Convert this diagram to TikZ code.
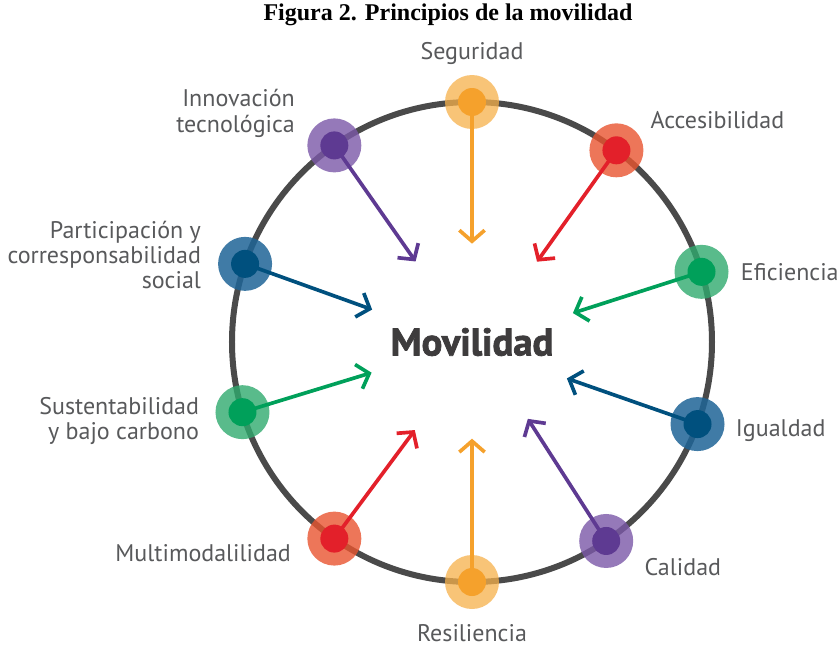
\documentclass[tikz,border=0pt]{standalone}
\usepackage{fontspec}
\setmainfont{Liberation Serif}
\newfontfamily\lblfont{PT Sans}
\newfontfamily\movfont{PT Sans Bold}[FakeBold=2]
\usetikzlibrary{arrows.meta,positioning}

\definecolor{ringgray}{HTML}{4A4A4A}
\definecolor{txtgray}{HTML}{58595B}
\definecolor{movgray}{HTML}{3E3C3D}
\definecolor{cOrange}{HTML}{F5A12C}
\definecolor{hOrange}{HTML}{F6B04A}
\definecolor{cRed}{HTML}{E3202A}
\definecolor{hRed}{HTML}{E8542F}
\definecolor{cGreen}{HTML}{00A05A}
\definecolor{hGreen}{HTML}{2FAA6E}
\definecolor{cBlue}{HTML}{00507E}
\definecolor{hBlue}{HTML}{1F6496}
\definecolor{cPurple}{HTML}{5E3A92}
\definecolor{hPurple}{HTML}{7B58A8}

\begin{document}
\begin{tikzpicture}[
    halo/.style={circle, minimum size=1.62cm, inner sep=0pt, fill opacity=0.8},
    dot/.style={circle, minimum size=0.84cm, inner sep=0pt},
    arrow/.style={-{Straight Barb[length=0.33cm, width=0.76cm]}, line width=0.11cm},
    lbl/.style={font=\lblfont\fontsize{20.5}{21.5}\selectfont, text=txtgray,
                inner sep=0pt, align=center}
]
    \useasboundingbox (-14.16,-9.27) rectangle (10.98,10.26);

    \node[font=\bfseries\fontsize{20.5}{24}\selectfont] (title) at (-0.72,9.82)
        {Figura 2. Principios de la movilidad};

    % anillo
    \draw[ringgray, line width=0.18cm] (0,0) circle (7.2);

    \node[font=\movfont\fontsize{33}{38}\selectfont, text=movgray] (mov) at (0,0) {Movilidad};

    % halos
    \node[halo, fill=hOrange, fill opacity=0.75] (seg) at (90:7.2) {};
    \node[halo, fill=hRed] (acc) at (53:7.2) {};
    \node[halo, fill=hGreen] (efi) at (17:7.2) {};
    \node[halo, fill=hBlue, fill opacity=0.85] (igu) at (-20:7.2) {};
    \node[halo, fill=hPurple] (cal) at (-56:7.2) {};
    \node[halo, fill=hOrange, fill opacity=0.75] (res) at (-90:7.2) {};
    \node[halo, fill=hRed] (mul) at (-125:7.2) {};
    \node[halo, fill=hGreen] (sus) at (-163:7.2) {};
    \node[halo, fill=hBlue, fill opacity=0.85] (par) at (161:7.2) {};
    \node[halo, fill=hPurple] (inn) at (125:7.2) {};

    % puntas
    \coordinate (segend) at (90:2.95);
    \coordinate (accend) at (51:3.1);
    \coordinate (efiend) at (16:3.15);
    \coordinate (iguend) at (-21:3.05);
    \coordinate (calend) at (-54:2.85);
    \coordinate (resend) at (-90:2.9);
    \coordinate (mulend) at (-123:3.15);
    \coordinate (susend) at (-163:3.15);
    \coordinate (parend) at (162:3.15);
    \coordinate (innend) at (125:2.95);

    \draw[arrow, cOrange] (seg.center) -- (segend);
    \draw[arrow, cRed] (acc.center) -- (accend);
    \draw[arrow, cGreen] (efi.center) -- (efiend);
    \draw[arrow, cBlue] (igu.center) -- (iguend);
    \draw[arrow, cPurple] (cal.center) -- (calend);
    \draw[arrow, cOrange] (res.center) -- (resend);
    \draw[arrow, cRed] (mul.center) -- (mulend);
    \draw[arrow, cGreen] (sus.center) -- (susend);
    \draw[arrow, cBlue] (par.center) -- (parend);
    \draw[arrow, cPurple] (inn.center) -- (innend);

    % puntos
    \node[dot, fill=cOrange] (segdot) at (seg) {};
    \node[dot, fill=cRed] (accdot) at (acc) {};
    \node[dot, fill=cGreen] (efidot) at (efi) {};
    \node[dot, fill=cBlue] (igudot) at (igu) {};
    \node[dot, fill=cPurple] (caldot) at (cal) {};
    \node[dot, fill=cOrange] (resdot) at (res) {};
    \node[dot, fill=cRed] (muldot) at (mul) {};
    \node[dot, fill=cGreen] (susdot) at (sus) {};
    \node[dot, fill=cBlue] (pardot) at (par) {};
    \node[dot, fill=cPurple] (inndot) at (inn) {};

    % etiquetas
    \node[lbl, above=0.3cm of seg] (seglbl) {Seguridad};
    \node[lbl, right=0.2cm of acc, yshift=0.9cm] (acclbl) {Accesibilidad};
    \node[lbl, right=0.36cm of efi] (efilbl) {Eficiencia};
    \node[lbl, right=0.33cm of igu, yshift=-0.2cm] (igulbl) {Igualdad};
    \node[lbl, right=0.33cm of cal, yshift=-0.78cm] (callbl) {Calidad};
    \node[lbl, below=0.45cm of res] (reslbl) {Resiliencia};
    \node[lbl, left=0.48cm of mul, yshift=-0.45cm] (mullbl) {Multimodalilidad};
    \node[lbl, left=0.48cm of sus, yshift=-0.27cm, align=right] (suslbl)
        {Sustentabilidad\\y bajo carbono};
    \node[lbl, left=0.5cm of par, yshift=0.27cm, align=right] (parlbl)
        {Participación y\\corresponsabilidad\\social};
    \node[lbl, left=0.36cm of inn, yshift=0.96cm, align=right] (innlbl)
        {Innovación\\tecnológica};
\end{tikzpicture}
\end{document}
